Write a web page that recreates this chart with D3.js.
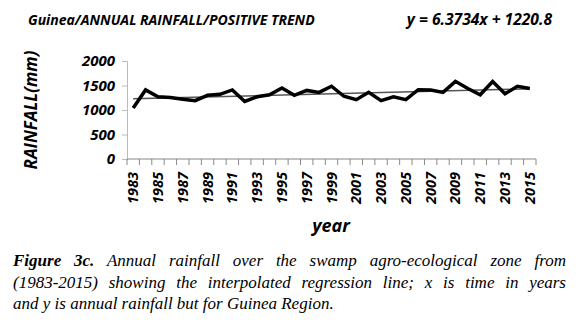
<html>
<head>
  <script src="https://d3js.org/d3.v7.min.js"></script>
  <style>
    body { margin: 0; background: #fff; }
    .axis text { font-family: "Open Sans", sans-serif; font-weight: 700; font-style: italic; fill: #000; }
    .caption { position: absolute; left: 13px; width: 553px; font-family: "Liberation Serif", serif;
      font-style: italic; font-size: 17px; line-height: 21.5px; }
    .caption div { text-align: justify; text-align-last: justify; white-space: nowrap; }
    .caption div.last { text-align-last: left; }
  </style>
</head>
<body>
  <svg id="chart" width="578" height="326" style="position:absolute;left:0;top:0"></svg>
  <div class="caption" style="top:250px">
    <div><b>Figure 3c.</b> Annual rainfall over the swamp agro-ecological zone from</div>
    <div>(1983-2015) showing the interpolated regression line; x is time in years</div>
    <div class="last">and y is annual rainfall but for Guinea Region.</div>
  </div>
  <script>
    const years = d3.range(1983, 2016);
    const rainfall = [1040, 1410, 1270, 1255, 1220, 1190, 1300, 1320, 1410, 1175, 1270,
      1310, 1450, 1300, 1400, 1360, 1485, 1280, 1210, 1360, 1190, 1270, 1210, 1415,
      1410, 1360, 1585, 1440, 1310, 1580, 1330, 1485, 1440];
    const yTicks = [0, 500, 1000, 1500, 2000];
    const slope = 6.3734, intercept = 1220.8;

    const svg = d3.select("#chart");
    const margin = { left: 127, right: 42, top: 61, bottom: 167 };
    const chartWidth = 578 - margin.left - margin.right;
    const chartHeight = 326 - margin.top - margin.bottom;

    const x = d3.scaleBand().domain(years).range([margin.left, margin.left + chartWidth]);
    const y = d3.scaleLinear().domain([0, 2000]).range([margin.top + chartHeight, margin.top]);

    // y axis
    const leftAxis = d3.axisLeft(y).tickValues(yTicks).tickSize(5).tickPadding(7)
      .tickFormat(d3.format("d"));
    const gy = svg.append("g").attr("class", "axis")
      .attr("transform", `translate(${margin.left},0)`)
      .call(leftAxis);
    gy.selectAll("path, line").attr("stroke", "#bbb");
    gy.selectAll("text").attr("font-size", 15);

    // x axis: ticks at band edges, labels every other year
    const edges = years.map(d => x(d)).concat([x.range()[1]]);
    const gx = svg.append("g").attr("class", "axis");
    gx.append("line")
      .attr("x1", margin.left).attr("x2", x.range()[1])
      .attr("y1", y(0)).attr("y2", y(0))
      .attr("stroke", "#888").attr("stroke-width", 1.2);
    gx.selectAll("line.tick").data(edges).join("line")
      .attr("class", "tick")
      .attr("x1", d => d).attr("x2", d => d)
      .attr("y1", y(0)).attr("y2", y(0) + 6)
      .attr("stroke", "#888");
    gx.selectAll("text").data(years.filter((d, i) => i % 2 == 0)).join("text")
      .attr("transform", d => `translate(${x(d) + x.bandwidth() / 2 + 5},${y(0) + 13}) rotate(-90)`)
      .attr("text-anchor", "end")
      .attr("font-size", 14.5)
      .text(d => d);

    // trend line from regression equation
    const trend = d3.line()
      .x(d => x(d) + x.bandwidth() / 2)
      .y(d => y(slope * (d - 1982) + intercept));
    svg.append("path").datum([years[0], years[years.length - 1]])
      .attr("d", trend).attr("fill", "none")
      .attr("stroke", "#555").attr("stroke-width", 1.5);

    // rainfall line
    const line = d3.line()
      .x((d, i) => x(years[i]) + x.bandwidth() / 2)
      .y(d => y(d));
    svg.append("path").datum(rainfall)
      .attr("d", line).attr("fill", "none")
      .attr("stroke", "#000").attr("stroke-width", 3.5)
      .attr("stroke-linejoin", "miter");

    // titles
    const titles = svg.append("g").attr("class", "axis");
    titles.append("text").attr("x", 28).attr("y", 25).attr("font-size", 14)
      .text("Guinea/ANNUAL RAINFALL/POSITIVE TREND");
    titles.append("text").attr("x", 552).attr("y", 25).attr("font-size", 15.6)
      .attr("text-anchor", "end")
      .text("y = 6.3734x + 1220.8");
    titles.append("text")
      .attr("transform", "translate(37,110) rotate(-90)")
      .attr("text-anchor", "middle").attr("font-size", 17)
      .text("RAINFALL(mm)");
    titles.append("text").attr("x", 331).attr("y", 232)
      .attr("text-anchor", "middle").attr("font-size", 18)
      .text("year");
  </script>
</body>
</html>
